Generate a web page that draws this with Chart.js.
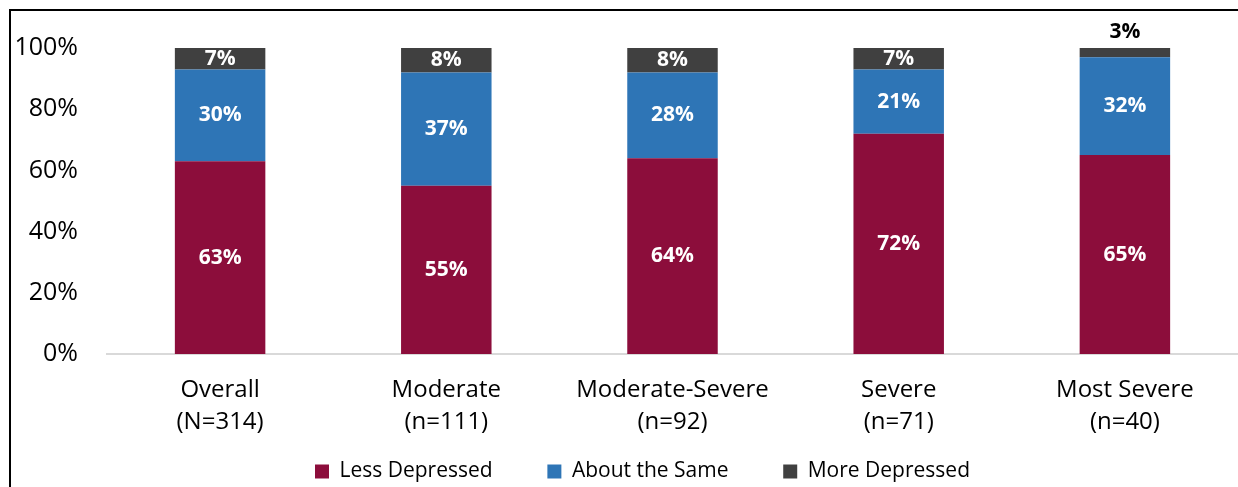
<!DOCTYPE html>
<html>
<head>
<meta charset="utf-8">
<script src="https://cdn.jsdelivr.net/npm/chart.js@4/dist/chart.umd.min.js"></script>
<style>
  html, body { margin: 0; padding: 0; background: #fff; }
  #wrap { position: relative; width: 1238px; height: 487px; }
  #frame {
    position: absolute; left: 9px; top: 9px; right: -5px; bottom: -5px;
    border-top: 2px solid #000; border-left: 2px solid #000;
    pointer-events: none;
  }
</style>
</head>
<body>
<div id="wrap">
  <canvas id="chart" width="1238" height="487"></canvas>
  <div id="frame"></div>
</div>
<script>
// categories and series (percent)
const categories = [
  ['Overall', '(N=314)'],
  ['Moderate', '(n=111)'],
  ['Moderate-Severe', '(n=92)'],
  ['Severe', '(n=71)'],
  ['Most Severe', '(n=40)']
];
const lessDepressed = [63, 55, 64, 72, 65];
const aboutSame = [30, 37, 28, 21, 32];
const moreDepressed = [7, 8, 8, 7, 3];
const yTicks = [0, 20, 40, 60, 80, 100];

const FONT = "'Open Sans', sans-serif";

// value labels inside segments (tiny ones go above the stack)
const valueLabels = {
  id: 'valueLabels',
  afterDatasetsDraw(chart) {
    const ctx = chart.ctx;
    ctx.save();
    ctx.font = 'bold 21px ' + FONT;
    ctx.textAlign = 'center';
    ctx.textBaseline = 'middle';
    chart.data.datasets.forEach((ds, di) => {
      const meta = chart.getDatasetMeta(di);
      meta.data.forEach((bar, i) => {
        const v = ds.data[i];
        const h = Math.abs(bar.base - bar.y);
        if (h < 14) {
          ctx.fillStyle = '#000';
          ctx.fillText(v + '%', bar.x, bar.y - 16);
        } else {
          ctx.fillStyle = '#fff';
          ctx.fillText(v + '%', bar.x, (bar.y + bar.base) / 2);
        }
      });
    });
    ctx.restore();
  }
};

new Chart(document.getElementById('chart'), {
  type: 'bar',
  data: {
    labels: categories,
    datasets: [
      { label: 'Less Depressed', data: lessDepressed, backgroundColor: '#8C0D3B' },
      { label: 'About the Same', data: aboutSame, backgroundColor: '#2E75B6' },
      { label: 'More Depressed', data: moreDepressed, backgroundColor: '#404040' }
    ]
  },
  options: {
    responsive: false,
    animation: false,
    layout: { padding: { top: 48, right: 0, left: 0, bottom: 0 } },
    datasets: {
      bar: { categoryPercentage: 1, barPercentage: 0.4 }
    },
    plugins: {
      legend: {
        position: 'bottom',
        fullSize: false,
        maxHeight: 48,
        labels: {
          color: '#000',
          font: { family: FONT, size: 21 },
          boxWidth: 14,
          boxHeight: 14,
          padding: 22,
          // wider gaps between items; trailing blank on the last one nudges the row left
          generateLabels: (chart) => {
            const items = Chart.defaults.plugins.legend.labels.generateLabels(chart);
            items.forEach((it, i) => {
              it.text += i < items.length - 1 ? '      ' : '           ';
            });
            return items;
          }
        }
      },
      tooltip: { enabled: false }
    },
    scales: {
      x: {
        stacked: true,
        afterFit: (scale) => { scale.height = 85; },
        grid: { display: false },
        border: { color: '#d9d9d9', width: 2 },
        ticks: {
          color: '#000',
          font: { family: FONT, size: 24, lineHeight: 1.35 },
          padding: 12,
          maxRotation: 0,
          autoSkip: false
        }
      },
      y: {
        stacked: true,
        min: 0,
        max: 100,
        afterFit: (scale) => { scale.width = 107; },
        afterBuildTicks: (scale) => { scale.ticks = yTicks.map(v => ({ value: v })); },
        grid: { display: false, drawTicks: false },
        border: { display: false },
        ticks: {
          color: '#000',
          font: { family: FONT, size: 25 },
          padding: 29,
          callback: (v) => v + '%'
        }
      }
    }
  },
  plugins: [valueLabels]
});
</script>
</body>
</html>
